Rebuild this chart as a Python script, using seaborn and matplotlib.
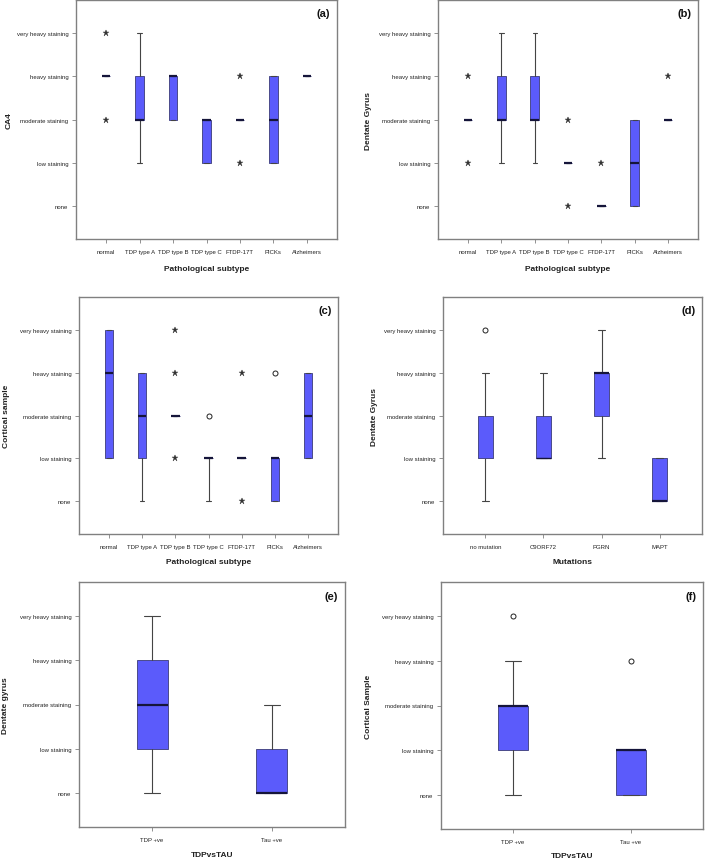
import matplotlib
matplotlib.use("Agg")
import matplotlib.pyplot as plt
import seaborn as sns

sns.set_style("white")
plt.rcParams['font.family'] = ['Liberation Sans', 'DejaVu Sans']

# ---------------- data ----------------
y_levels = ["none", "low staining", "moderate staining", "heavy staining", "very heavy staining"]

subtypes = ["normal", "TDP type A", "TDP type B", "TDP type C", "FTDP-17T", "PICKs", "Alzheimers"]
mutations = ["no mutation", "C9ORF72", "PGRN", "MAPT"]
groups = ["TDP +ve", "Tau +ve"]

# (a) CA4
a_q1 = [3, 2, 2, 1, 2, 1, 3]
a_med = [3, 2, 3, 2, 2, 2, 3]
a_q3 = [3, 3, 3, 2, 2, 3, 3]
a_lo = [3, 1, 2, 1, 2, 1, 3]
a_hi = [3, 4, 3, 2, 2, 3, 3]
a_stars = [[4, 2], [], [], [], [3, 1], [], []]
a_circles = [[], [], [], [], [], [], []]

# (b) Dentate Gyrus by subtype
b_q1 = [2, 2, 2, 1, 0, 0, 2]
b_med = [2, 2, 2, 1, 0, 1, 2]
b_q3 = [2, 3, 3, 1, 0, 2, 2]
b_lo = [2, 1, 1, 1, 0, 0, 2]
b_hi = [2, 4, 4, 1, 0, 2, 2]
b_stars = [[3, 1], [], [], [2, 0], [1], [], [3]]
b_circles = [[], [], [], [], [], [], []]

# (c) Cortical sample by subtype
c_q1 = [1, 1, 2, 1, 1, 0, 1]
c_med = [3, 2, 2, 1, 1, 1, 2]
c_q3 = [4, 3, 2, 1, 1, 1, 3]
c_lo = [1, 0, 2, 0, 1, 0, 1]
c_hi = [4, 3, 2, 1, 1, 1, 3]
c_stars = [[], [], [4, 3, 1], [], [3, 0], [], []]
c_circles = [[], [], [], [2], [], [3], []]

# (d) Dentate Gyrus by mutation
d_q1 = [1, 1, 2, 0]
d_med = [1, 1, 3, 0]
d_q3 = [2, 2, 3, 1]
d_lo = [0, 1, 1, 0]
d_hi = [3, 3, 4, 1]
d_stars = [[], [], [], []]
d_circles = [[4], [], [], []]

# (e) Dentate gyrus TDP vs TAU
e_q1 = [1, 0]
e_med = [2, 0]
e_q3 = [3, 1]
e_lo = [0, 0]
e_hi = [4, 2]
e_stars = [[], []]
e_circles = [[], []]

# (f) Cortical Sample TDP vs TAU
f_q1 = [1, 0]
f_med = [2, 1]
f_q3 = [2, 1]
f_lo = [0, 0]
f_hi = [3, 1]
f_stars = [[], []]
f_circles = [[4], [3]]

W, H = 709, 862
BOX = "#5b5bfb"
EDGE = "#4a4a8a"
FRAME = "#808080"

panels = [
    ("(a)", subtypes, a_q1, a_med, a_q3, a_lo, a_hi, a_stars, a_circles, "Pathological subtype", "CA4", (76, 337, 1, 240), 0.9, 13, 8),
    ("(b)", subtypes, b_q1, b_med, b_q3, b_lo, b_hi, b_stars, b_circles, "Pathological subtype", "Dentate Gyrus", (438, 698, 1, 240), 0.9, 372, 8),
    ("(c)", subtypes, c_q1, c_med, c_q3, c_lo, c_hi, c_stars, c_circles, "Pathological subtype", "Cortical sample", (79, 338, 298, 535), 0.9, 10, 6.5),
    ("(d)", mutations, d_q1, d_med, d_q3, d_lo, d_hi, d_stars, d_circles, "Mutations", "Dentate Gyrus", (443, 702, 298, 535), 0.73, 378, 6.5),
    ("(e)", groups, e_q1, e_med, e_q3, e_lo, e_hi, e_stars, e_circles, "TDPvsTAU", "Dentate gyrus", (79, 345, 583, 828), 0.61, 9, 7),
    ("(f)", groups, f_q1, f_med, f_q3, f_lo, f_hi, f_stars, f_circles, "TDPvsTAU", "Cortical Sample", (441, 703, 583, 830), 0.61, 372, 6),
]

fig = plt.figure(figsize=(W / 100, H / 100), dpi=100)

for (lab, cats, q1, med, q3, lo, hi, stars, circles, xlab, ylab, (l, r, t, b), xm, ylx, lpad) in panels:
    ax = fig.add_axes([l / W, 1 - b / H, (r - l) / W, (b - t) / H])
    stats = []
    for i, c in enumerate(cats):
        stats.append(dict(label=c, med=med[i], q1=q1[i], q3=q3[i],
                          whislo=lo[i], whishi=hi[i], fliers=[]))
    pos = list(range(len(cats)))
    res = ax.bxp(stats, positions=pos, widths=0.26, patch_artist=True,
                 showfliers=False, capwidths=0.13,
                 boxprops=dict(facecolor=BOX, edgecolor=EDGE, linewidth=0.7),
                 medianprops=dict(color="#15153a", linewidth=1.6, solid_capstyle="butt"),
                 whiskerprops=dict(color="#444444", linewidth=0.8),
                 capprops=dict(color="#444444", linewidth=0.8))
    if lab == "(d)":
        res['medians'][0].set_linewidth(0.7)
        res['medians'][0].set_color(EDGE)
        res['medians'][1].set_linewidth(1.0)
    for i in pos:
        if stars[i]:
            ax.plot([i] * len(stars[i]), stars[i], linestyle="none", marker="*",
                    markersize=4.5, color="#333333", markeredgewidth=0.3)
        if circles[i]:
            ax.plot([i] * len(circles[i]), circles[i], linestyle="none", marker="o",
                    markersize=3.6, markerfacecolor="white", markeredgecolor="#222222",
                    markeredgewidth=0.7)
    ax.set_xlim(-xm, len(cats) - 1 + xm)
    ax.set_ylim(-0.77, 4.77)
    ax.set_yticks(range(5))
    ax.set_yticklabels(y_levels)
    ax.set_xticks(pos)
    ax.set_xticklabels(cats)
    ax.tick_params(axis="both", labelsize=4.3, length=3, width=0.6, color=FRAME,
                   labelcolor="#222222", pad=2.5, left=True, bottom=True)
    ax.tick_params(axis="x", pad=4)
    for s in ax.spines.values():
        s.set_color(FRAME)
        s.set_linewidth(1.0)
    ax.set_xlabel(xlab, fontsize=6, fontweight="bold", labelpad=lpad, color="#222222")
    ax.set_ylabel(ylab, fontsize=6, fontweight="bold", color="#222222")
    ax.yaxis.set_label_coords((ylx - l) / (r - l), 0.5)
    ax.text(0.975, 0.965, lab, transform=ax.transAxes, ha="right", va="top",
            fontsize=8, fontweight="bold", color="#111111")
    ax.grid(False)

fig.savefig("out.png", dpi=100)
